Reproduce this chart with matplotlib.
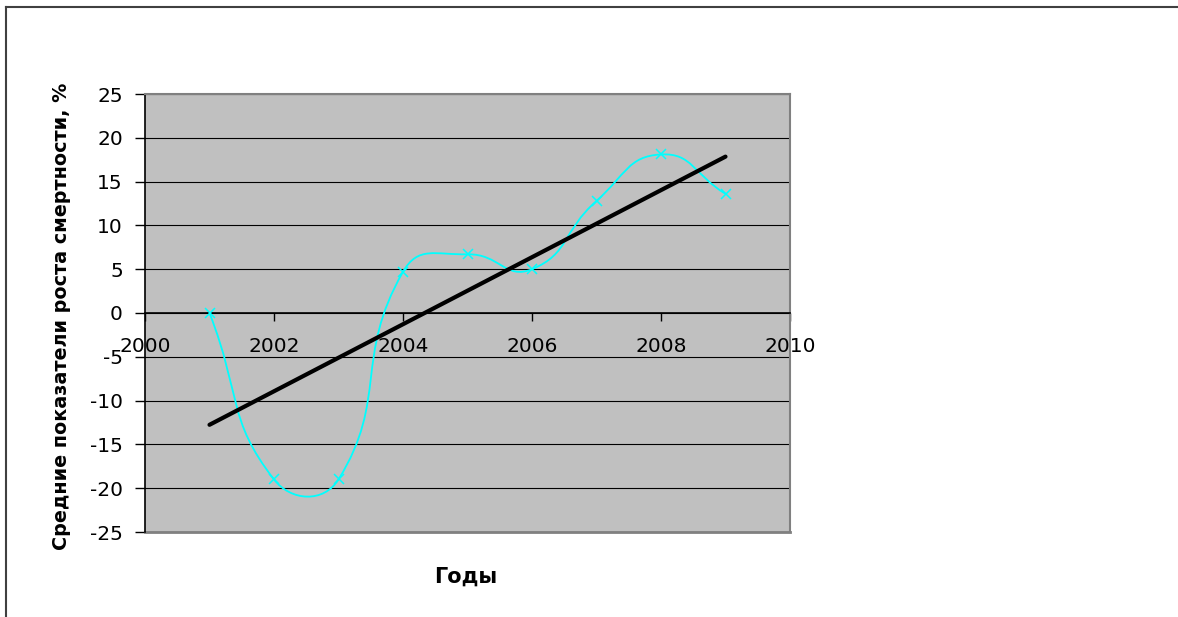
import numpy as np
import matplotlib
matplotlib.use("Agg")
import matplotlib.pyplot as plt
from matplotlib.path import Path
from matplotlib.patches import PathPatch
from matplotlib.lines import Line2D

# data
years = [2001, 2002, 2003, 2004, 2005, 2006, 2007, 2008, 2009]
rates = [0.0, -19.0, -19.0, 4.7, 6.7, 5.0, 12.8, 18.1, 13.6]

plt.rcParams['font.family'] = ['DejaVu Sans']
plt.rcParams['axes.unicode_minus'] = False

fig = plt.figure(figsize=(11.78, 6.17), dpi=100)
ax = fig.add_axes([145/1178, 1 - 532/617, 645/1178, 438/617])
ax.set_facecolor('#c0c0c0')
ax.set_xlim(2000, 2010)
ax.set_ylim(-25, 25)
ax.set_xticks(range(2000, 2011, 2))
ax.set_yticks(range(-25, 26, 5))
ax.grid(axis='y', color='black', lw=0.8)
ax.set_axisbelow(True)

# spines: y axis black, x axis crosses at 0, frame gray
for s in ['top', 'right']:
    ax.spines[s].set_color('#808080')
    ax.spines[s].set_linewidth(1.5)
ax.spines['left'].set_color('black')
ax.spines['left'].set_linewidth(1.2)
ax.spines['bottom'].set_position(('data', 0))
ax.spines['bottom'].set_color('black')
ax.spines['bottom'].set_linewidth(1.2)
ax.axhline(-25, color='#808080', lw=2, clip_on=False, zorder=1)

ax.tick_params(axis='y', direction='out', length=7, width=1, pad=9,
               labelsize=14.5)
ax.tick_params(axis='x', direction='out', length=6, width=1, pad=11.5,
               labelsize=14.5)

# smoothed line (Excel-style bezier, computed in screen space)
fig.canvas.draw()
pts = ax.transData.transform(np.column_stack([years, rates]))
n = len(pts)
verts = [pts[0]]
codes = [Path.MOVETO]
for i in range(n - 1):
    p0 = pts[i - 1] if i > 0 else pts[i]
    p1 = pts[i]
    p2 = pts[i + 1]
    p3 = pts[i + 2] if i + 2 < n else pts[i + 1]
    d01 = np.hypot(*(p1 - p0))
    d12 = np.hypot(*(p2 - p1))
    d23 = np.hypot(*(p3 - p2))
    f1 = 0.5 * d12 / (d01 + d12) if d01 + d12 > 0 else 0
    f2 = 0.5 * d12 / (d12 + d23) if d12 + d23 > 0 else 0
    c1 = p1 + (p2 - p0) * f1
    c2 = p2 - (p3 - p1) * f2
    verts += [c1, c2, p2]
    codes += [Path.CURVE4] * 3
inv = ax.transData.inverted()
path = Path(inv.transform(np.array(verts)), codes)
ax.add_patch(PathPatch(path, fill=False, ec='#00ffff', lw=1.3, zorder=3))
ax.plot(years, rates, ls='none', marker='x', ms=7, mew=1.1, color='#00ffff',
        zorder=4)

# linear trend
k, b = np.polyfit(years, rates, 1)
tx = np.array([years[0], years[-1]])
ax.plot(tx, k * tx + b, color='black', lw=3, solid_capstyle='round', zorder=5)

fig.text(62/1178, 1 - 316/617, 'Средние показатели роста смертности, %',
         fontsize=13.8, fontweight='bold', rotation=90, ha='center', va='center')
fig.text(466/1178, 1 - 577/617, 'Годы', fontsize=15, fontweight='bold',
         ha='center', va='center')

# outer chart border (left and top visible)
fig.add_artist(Line2D([6/1178, 6/1178], [0, 1 - 6.5/617], color='#404040',
                      lw=1.5, transform=fig.transFigure))
fig.add_artist(Line2D([6/1178, 1], [1 - 6.5/617, 1 - 6.5/617], color='#404040',
                      lw=1.5, transform=fig.transFigure))

fig.savefig('out.png', dpi=100)
